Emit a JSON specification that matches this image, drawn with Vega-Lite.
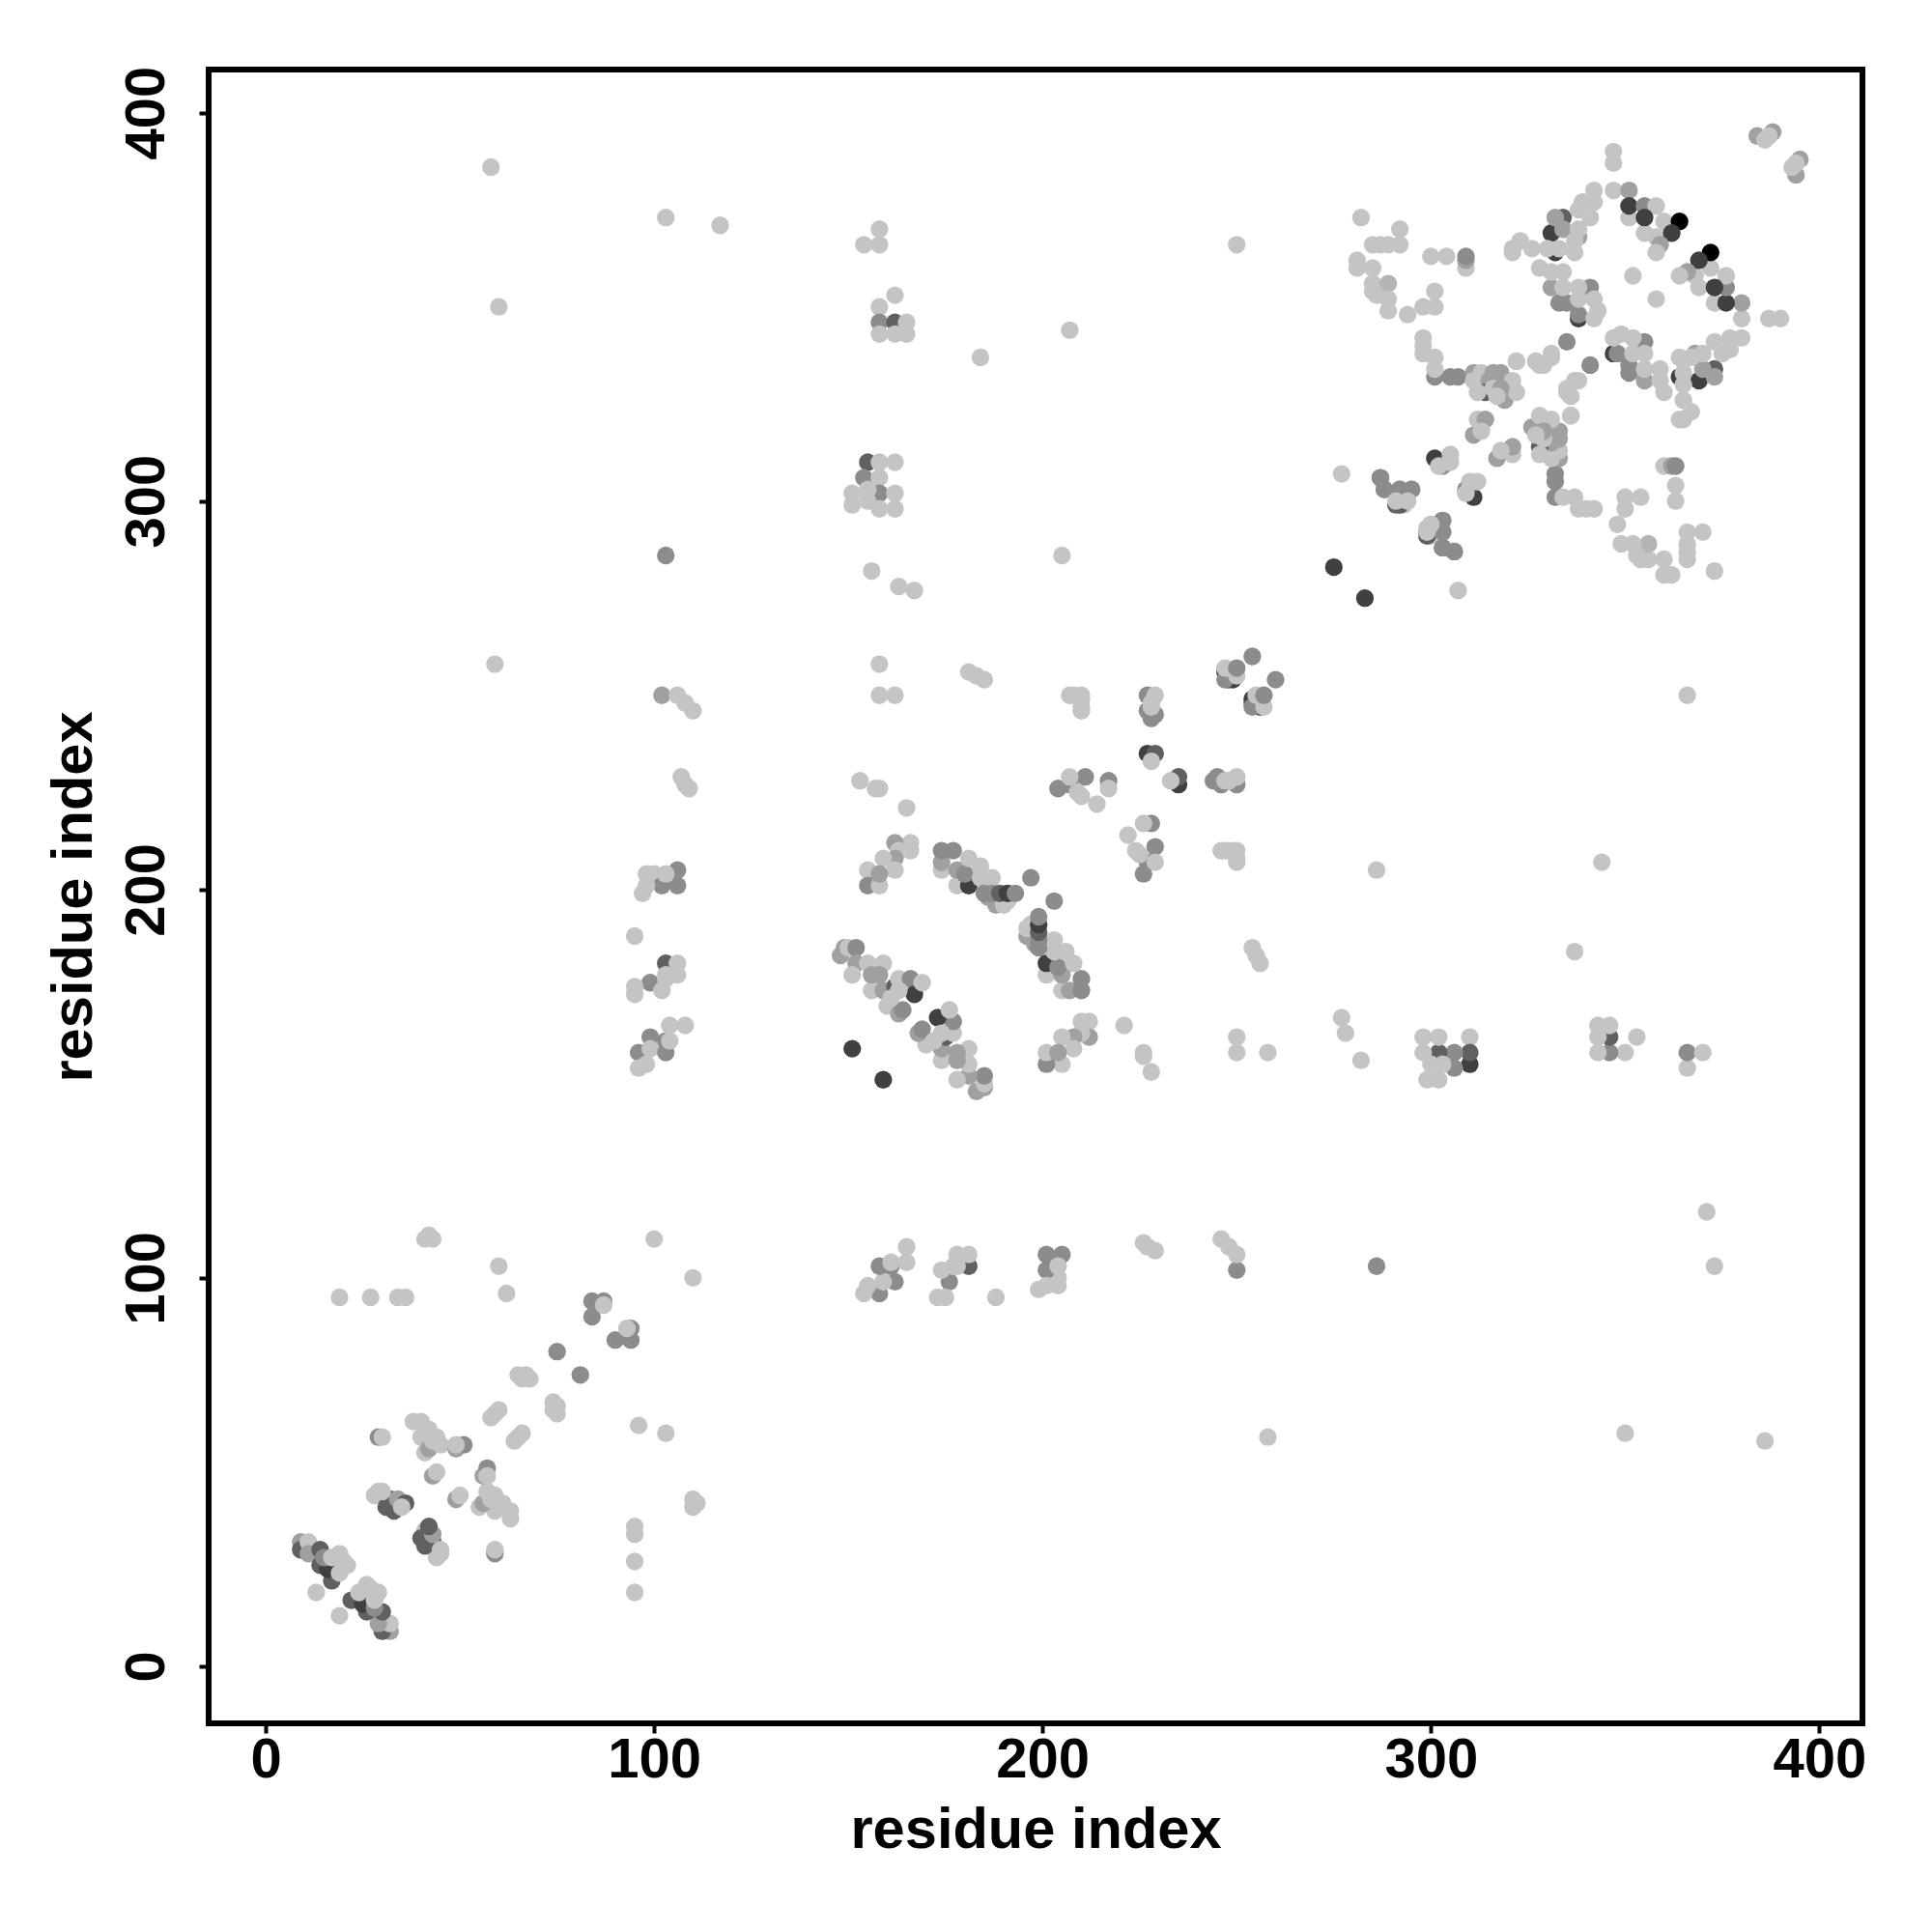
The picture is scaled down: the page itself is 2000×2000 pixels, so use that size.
{"$schema":"https://vega.github.io/schema/vega-lite/v6.json","width":1712,"height":1712,"autosize":"none","padding":{"left":216,"top":72,"right":72,"bottom":216},"background":"white","config":{"view":{"stroke":"#000000","strokeWidth":6}},
"data":{"values":[
{"i":9,"j":32,"s":160},{"i":9,"j":30,"s":96},{"i":11,"j":32,"s":196},{"i":11,"j":29,"s":160},{"i":14,"j":30,"s":96},{"i":14,"j":26,"s":96},{"i":17,"j":22,"s":96},{"i":16,"j":25,"s":64},{"i":15,"j":28,"s":140},{"i":19,"j":29,"s":196},{"i":17,"j":28,"s":196},{"i":21,"j":26,"s":196},{"i":19,"j":24,"s":196},{"i":20,"j":27,"s":196},{"i":13,"j":19,"s":196},
{"i":28,"j":44,"s":196},{"i":29,"j":45,"s":196},{"i":31,"j":41,"s":96},{"i":32,"j":43,"s":96},{"i":33,"j":40,"s":96},{"i":34,"j":43,"s":160},{"i":41,"j":35,"s":196},{"i":36,"j":42,"s":96},{"i":30,"j":45,"s":196},{"i":29,"j":59,"s":140},{"i":30,"j":59,"s":196},
{"i":38,"j":63,"s":196},{"i":40,"j":63,"s":196},{"i":42,"j":61,"s":196},{"i":44,"j":59,"s":196},{"i":41,"j":55,"s":196},{"i":40,"j":59,"s":196},{"i":42,"j":56,"s":160},{"i":43,"j":58,"s":196},{"i":45,"j":57,"s":196},{"i":49,"j":56,"s":160},{"i":51,"j":57,"s":140},{"i":49,"j":57,"s":196},{"i":43,"j":49,"s":160},{"i":44,"j":50,"s":196},
{"i":58,"j":64,"s":196},{"i":59,"j":65,"s":196},{"i":60,"j":66,"s":196},{"i":65,"j":75,"s":196},{"i":66,"j":74,"s":196},{"i":67,"j":75,"s":196},{"i":68,"j":74,"s":196},{"i":75,"j":81,"s":140},{"i":84,"j":90,"s":140},{"i":84,"j":94,"s":140},{"i":87,"j":94,"s":140},{"i":87,"j":93,"s":196},
{"i":19,"j":95,"s":196},{"i":27,"j":95,"s":196},{"i":34,"j":95,"s":196},{"i":36,"j":95,"s":196},{"i":62,"j":96,"s":196},{"i":60,"j":103,"s":196},{"i":100,"j":110,"s":196},{"i":41,"j":110,"s":196},{"i":42,"j":111,"s":196},{"i":43,"j":110,"s":196},
{"i":95,"j":188,"s":196},{"i":58,"j":386,"s":196},{"i":60,"j":350,"s":196},{"i":59,"j":258,"s":196},{"i":103,"j":373,"s":196},{"i":117,"j":371,"s":196},{"i":103,"j":286,"s":140},{"i":102,"j":250,"s":160},{"i":106,"j":250,"s":196},{"i":108,"j":248,"s":196},{"i":110,"j":246,"s":196},{"i":107,"j":229,"s":196},{"i":108,"j":227,"s":196},{"i":109,"j":226,"s":196},
{"i":98,"j":204,"s":196},{"i":97,"j":199,"s":196},{"i":100,"j":204,"s":196},{"i":102,"j":201,"s":140},{"i":106,"j":201,"s":140},{"i":106,"j":205,"s":140},{"i":98,"j":201,"s":196},{"i":103,"j":204,"s":196},
{"i":99,"j":176,"s":140},{"i":103,"j":181,"s":96},{"i":106,"j":181,"s":196},{"i":106,"j":178,"s":196},{"i":103,"j":177,"s":196},{"i":102,"j":174,"s":196},{"i":95,"j":173,"s":196},{"i":95,"j":175,"s":196},{"i":103,"j":178,"s":196},
{"i":96,"j":158,"s":140},{"i":96,"j":154,"s":196},{"i":98,"j":155,"s":196},{"i":99,"j":162,"s":140},{"i":99,"j":159,"s":196},{"i":103,"j":158,"s":140},{"i":103,"j":161,"s":140},{"i":104,"j":161,"s":196},{"i":104,"j":165,"s":196},{"i":108,"j":165,"s":196},
{"i":154,"j":366,"s":196},{"i":158,"j":366,"s":196},{"i":158,"j":370,"s":196},{"i":158,"j":350,"s":196},{"i":158,"j":346,"s":140},{"i":162,"j":346,"s":96},{"i":162,"j":353,"s":196},{"i":158,"j":343,"s":196},{"i":162,"j":343,"s":196},{"i":165,"j":343,"s":196},{"i":165,"j":346,"s":196},
{"i":155,"j":310,"s":96},{"i":162,"j":310,"s":196},{"i":158,"j":310,"s":196},{"i":154,"j":306,"s":140},{"i":158,"j":306,"s":196},{"i":151,"j":302,"s":196},{"i":151,"j":299,"s":196},{"i":158,"j":302,"s":140},{"i":155,"j":300,"s":196},{"i":162,"j":302,"s":196},{"i":162,"j":298,"s":196},{"i":158,"j":298,"s":196},{"i":155,"j":303,"s":196},
{"i":156,"j":282,"s":196},{"i":163,"j":278,"s":196},{"i":167,"j":277,"s":196},{"i":158,"j":258,"s":196},{"i":158,"j":250,"s":196},{"i":162,"j":250,"s":196},{"i":153,"j":228,"s":196},{"i":157,"j":226,"s":196},{"i":158,"j":226,"s":196},{"i":165,"j":221,"s":196},
{"i":166,"j":212,"s":196},{"i":166,"j":210,"s":196},{"i":162,"j":212,"s":160},{"i":163,"j":210,"s":196},{"i":162,"j":208,"s":160},{"i":162,"j":205,"s":196},{"i":159,"j":208,"s":196},{"i":155,"j":205,"s":196},{"i":155,"j":201,"s":140},{"i":158,"j":201,"s":196},{"i":158,"j":204,"s":160},
{"i":174,"j":205,"s":196},{"i":174,"j":207,"s":160},{"i":174,"j":210,"s":140},{"i":177,"j":210,"s":140},{"i":178,"j":201,"s":196},{"i":178,"j":205,"s":160},{"i":181,"j":201,"s":64},{"i":180,"j":204,"s":140},{"i":181,"j":208,"s":196},{"i":184,"j":206,"s":196},{"i":184,"j":203,"s":196},{"i":187,"j":203,"s":196},{"i":186,"j":198,"s":160},{"i":188,"j":196,"s":160},{"i":190,"j":196,"s":196},{"i":191,"j":197,"s":196},{"i":185,"j":199,"s":140},{"i":187,"j":199,"s":140},{"i":189,"j":199,"s":96},{"i":191,"j":199,"s":64},{"i":193,"j":199,"s":140},{"i":197,"j":203,"s":140},
{"i":149,"j":185,"s":160},{"i":148,"j":183,"s":160},{"i":150,"j":185,"s":196},{"i":152,"j":185,"s":140},{"i":152,"j":181,"s":160},{"i":151,"j":178,"s":196},{"i":155,"j":181,"s":196},{"i":159,"j":181,"s":196},{"i":156,"j":174,"s":196},{"i":156,"j":178,"s":160},{"i":159,"j":174,"s":160},{"i":158,"j":178,"s":160},{"i":160,"j":170,"s":196},{"i":163,"j":168,"s":160},{"i":164,"j":169,"s":140},{"i":162,"j":175,"s":96},{"i":163,"j":177,"s":196},{"i":166,"j":177,"s":140},{"i":167,"j":173,"s":64},{"i":169,"j":176,"s":196},{"i":163,"j":174,"s":196},{"i":161,"j":172,"s":196},{"i":151,"j":159,"s":64},
{"i":207,"j":250,"s":196},{"i":210,"j":249,"s":196},{"i":210,"j":246,"s":196},{"i":204,"j":226,"s":140},{"i":211,"j":229,"s":140},{"i":207,"j":227,"s":140},{"i":207,"j":229,"s":196},{"i":209,"j":225,"s":196},{"i":210,"j":224,"s":196},{"i":214,"j":222,"s":196},{"i":217,"j":228,"s":140},{"i":217,"j":226,"s":196},{"i":205,"j":286,"s":196},{"i":207,"j":344,"s":196},{"i":184,"j":337,"s":196},{"i":181,"j":256,"s":196},{"i":183,"j":255,"s":196},{"i":185,"j":254,"s":196},
{"i":227,"j":250,"s":140},{"i":227,"j":246,"s":140},{"i":229,"j":245,"s":140},{"i":228,"j":248,"s":196},{"i":229,"j":250,"s":196},{"i":227,"j":235,"s":64},{"i":229,"j":235,"s":96},{"i":228,"j":233,"s":196},{"i":228,"j":244,"s":140},{"i":228,"j":247,"s":196},{"i":210,"j":247,"s":196},{"i":210,"j":250,"s":196},{"i":208,"j":250,"s":196},
{"i":247,"j":256,"s":64},{"i":248,"j":254,"s":96},{"i":249,"j":254,"s":64},{"i":249,"j":256,"s":96},{"i":247,"j":254,"s":140},{"i":250,"j":255,"s":196},{"i":247,"j":257,"s":196},{"i":250,"j":257,"s":140},{"i":254,"j":260,"s":140},{"i":250,"j":366,"s":196},{"i":275,"j":283,"s":64},{"i":277,"j":307,"s":196},
{"i":282,"j":373,"s":196},{"i":292,"j":370,"s":196},{"i":285,"j":366,"s":196},{"i":287,"j":366,"s":196},{"i":289,"j":366,"s":196},{"i":292,"j":366,"s":196},{"i":300,"j":363,"s":196},{"i":304,"j":363,"s":196},{"i":309,"j":360,"s":196},{"i":309,"j":362,"s":160},{"i":309,"j":363,"s":140},{"i":281,"j":362,"s":196},{"i":281,"j":360,"s":196},{"i":285,"j":360,"s":196},{"i":285,"j":356,"s":196},{"i":289,"j":356,"s":180},{"i":285,"j":354,"s":196},{"i":286,"j":353,"s":196},{"i":289,"j":352,"s":196},{"i":289,"j":349,"s":196},{"i":294,"j":348,"s":196},{"i":298,"j":350,"s":196},{"i":301,"j":350,"s":196},{"i":301,"j":354,"s":196},{"i":298,"j":342,"s":196},{"i":298,"j":340,"s":196},{"i":298,"j":338,"s":196},{"i":301,"j":332,"s":140},{"i":305,"j":332,"s":140},{"i":307,"j":332,"s":140},{"i":301,"j":337,"s":196},{"i":301,"j":334,"s":196},
{"i":311,"j":333,"s":160},{"i":311,"j":331,"s":196},{"i":313,"j":333,"s":196},{"i":316,"j":333,"s":160},{"i":318,"j":333,"s":160},{"i":315,"j":331,"s":160},{"i":314,"j":328,"s":96},{"i":319,"j":327,"s":96},{"i":319,"j":326,"s":160},{"i":312,"j":328,"s":196},{"i":321,"j":331,"s":196},{"i":322,"j":328,"s":196},{"i":316,"j":329,"s":196},{"i":318,"j":329,"s":160},{"i":317,"j":327,"s":196},
{"i":322,"j":336,"s":196},{"i":327,"j":336,"s":196},{"i":331,"j":337,"s":196},{"i":329,"j":335,"s":196},{"i":335,"j":341,"s":140},{"i":338,"j":331,"s":196},{"i":335,"j":328,"s":196},{"i":336,"j":327,"s":196},{"i":336,"j":322,"s":196},{"i":311,"j":317,"s":160},{"i":312,"j":321,"s":196},{"i":314,"j":321,"s":160},{"i":313,"j":318,"s":196},
{"i":301,"j":311,"s":64},{"i":303,"j":309,"s":140},{"i":305,"j":310,"s":196},{"i":305,"j":312,"s":196},{"i":302,"j":309,"s":196},{"i":291,"j":299,"s":96},{"i":287,"j":306,"s":140},{"i":288,"j":303,"s":140},{"i":292,"j":303,"s":140},{"i":295,"j":303,"s":140},{"i":292,"j":299,"s":196},{"i":294,"j":300,"s":196},{"i":293,"j":299,"s":196},
{"i":299,"j":292,"s":96},{"i":303,"j":295,"s":140},{"i":303,"j":292,"s":140},{"i":303,"j":288,"s":140},{"i":306,"j":287,"s":140},{"i":300,"j":294,"s":196},{"i":300,"j":291,"s":196},
{"i":332,"j":364,"s":64},{"i":331,"j":369,"s":64},{"i":334,"j":373,"s":96},{"i":332,"j":373,"s":160},{"i":334,"j":370,"s":160},{"i":338,"j":368,"s":160},{"i":342,"j":380,"s":196},{"i":342,"j":377,"s":196},{"i":339,"j":377,"s":196},{"i":338,"j":375,"s":196},{"i":341,"j":373,"s":196},{"i":338,"j":370,"s":196},{"i":337,"j":367,"s":196},{"i":337,"j":364,"s":196},{"i":333,"j":365,"s":196},
{"i":338,"j":347,"s":64},{"i":338,"j":348,"s":140},{"i":333,"j":351,"s":140},{"i":335,"j":351,"s":140},{"i":331,"j":355,"s":160},{"i":341,"j":355,"s":140},{"i":321,"j":365,"s":196},{"i":323,"j":367,"s":196},{"i":321,"j":364,"s":196},{"i":326,"j":365,"s":196},{"i":330,"j":365,"s":196},{"i":328,"j":360,"s":196},{"i":331,"j":359,"s":196},{"i":334,"j":359,"s":196},{"i":334,"j":355,"s":196},{"i":338,"j":355,"s":196},{"i":338,"j":352,"s":196},{"i":342,"j":352,"s":196},{"i":343,"j":349,"s":196},{"i":342,"j":347,"s":196},{"i":352,"j":358,"s":196},
{"i":347,"j":390,"s":196},{"i":347,"j":387,"s":196},{"i":347,"j":380,"s":196},{"i":351,"j":380,"s":160},{"i":351,"j":373,"s":196},{"i":351,"j":376,"s":64},{"i":355,"j":376,"s":140},{"i":358,"j":376,"s":196},{"i":355,"j":369,"s":196},{"i":355,"j":373,"s":64},{"i":360,"j":372,"s":196},{"i":364,"j":372,"s":0},{"i":358,"j":368,"s":196},{"i":362,"j":369,"s":64},{"i":359,"j":366,"s":160},{"i":358,"j":364,"s":196},{"i":384,"j":394,"s":160},{"i":386,"j":393,"s":196},{"i":388,"j":395,"s":160},{"i":387,"j":394,"s":196},

{"i":32,"j":9,"s":160},{"i":30,"j":9,"s":96},{"i":32,"j":11,"s":196},{"i":29,"j":11,"s":160},{"i":30,"j":14,"s":96},{"i":26,"j":14,"s":96},{"i":22,"j":17,"s":96},{"i":25,"j":16,"s":64},{"i":28,"j":15,"s":140},{"i":29,"j":19,"s":196},{"i":28,"j":17,"s":196},{"i":26,"j":21,"s":196},{"i":24,"j":19,"s":196},{"i":27,"j":20,"s":196},{"i":19,"j":13,"s":196},
{"i":44,"j":28,"s":196},{"i":45,"j":29,"s":196},{"i":41,"j":31,"s":96},{"i":43,"j":32,"s":96},{"i":40,"j":33,"s":96},{"i":43,"j":34,"s":160},{"i":35,"j":41,"s":196},{"i":42,"j":36,"s":96},{"i":45,"j":30,"s":196},{"i":59,"j":29,"s":140},{"i":59,"j":30,"s":196},
{"i":63,"j":38,"s":196},{"i":63,"j":40,"s":196},{"i":61,"j":42,"s":196},{"i":59,"j":44,"s":196},{"i":55,"j":41,"s":196},{"i":59,"j":40,"s":196},{"i":56,"j":42,"s":160},{"i":58,"j":43,"s":196},{"i":57,"j":45,"s":196},{"i":56,"j":49,"s":160},{"i":57,"j":51,"s":140},{"i":57,"j":49,"s":196},{"i":49,"j":43,"s":160},{"i":50,"j":44,"s":196},
{"i":64,"j":58,"s":196},{"i":65,"j":59,"s":196},{"i":66,"j":60,"s":196},{"i":75,"j":65,"s":196},{"i":74,"j":66,"s":196},{"i":75,"j":67,"s":196},{"i":74,"j":68,"s":196},{"i":81,"j":75,"s":140},{"i":90,"j":84,"s":140},{"i":94,"j":84,"s":140},{"i":94,"j":87,"s":140},{"i":93,"j":87,"s":196},
{"i":95,"j":19,"s":196},{"i":95,"j":27,"s":196},{"i":95,"j":34,"s":196},{"i":95,"j":36,"s":196},{"i":96,"j":62,"s":196},{"i":103,"j":60,"s":196},{"i":110,"j":100,"s":196},{"i":110,"j":41,"s":196},{"i":111,"j":42,"s":196},{"i":110,"j":43,"s":196},
{"i":188,"j":95,"s":196},{"i":386,"j":58,"s":196},{"i":350,"j":60,"s":196},{"i":258,"j":59,"s":196},{"i":373,"j":103,"s":196},{"i":371,"j":117,"s":196},{"i":286,"j":103,"s":140},{"i":250,"j":102,"s":140},{"i":250,"j":106,"s":196},{"i":248,"j":108,"s":196},{"i":246,"j":110,"s":196},{"i":229,"j":107,"s":196},{"i":227,"j":108,"s":196},{"i":226,"j":109,"s":196},
{"i":204,"j":98,"s":196},{"i":199,"j":97,"s":196},{"i":204,"j":100,"s":196},{"i":201,"j":102,"s":140},{"i":201,"j":106,"s":140},{"i":205,"j":106,"s":140},{"i":201,"j":98,"s":196},{"i":204,"j":103,"s":196},
{"i":176,"j":99,"s":140},{"i":181,"j":103,"s":96},{"i":181,"j":106,"s":196},{"i":178,"j":106,"s":196},{"i":177,"j":103,"s":196},{"i":174,"j":102,"s":196},{"i":173,"j":95,"s":196},{"i":175,"j":95,"s":196},{"i":178,"j":103,"s":196},
{"i":158,"j":96,"s":140},{"i":154,"j":96,"s":196},{"i":155,"j":98,"s":196},{"i":162,"j":99,"s":140},{"i":159,"j":99,"s":196},{"i":158,"j":103,"s":140},{"i":161,"j":103,"s":140},{"i":161,"j":104,"s":196},{"i":165,"j":104,"s":196},{"i":165,"j":108,"s":196},
{"i":366,"j":154,"s":196},{"i":366,"j":158,"s":140},{"i":370,"j":158,"s":196},{"i":350,"j":158,"s":196},{"i":346,"j":158,"s":140},{"i":346,"j":162,"s":96},{"i":353,"j":162,"s":196},{"i":343,"j":158,"s":196},{"i":343,"j":162,"s":196},{"i":343,"j":165,"s":196},{"i":346,"j":165,"s":196},
{"i":310,"j":155,"s":64},{"i":310,"j":162,"s":196},{"i":310,"j":158,"s":96},{"i":306,"j":154,"s":140},{"i":306,"j":158,"s":140},{"i":302,"j":151,"s":196},{"i":299,"j":151,"s":196},{"i":302,"j":158,"s":96},{"i":300,"j":155,"s":196},{"i":302,"j":162,"s":196},{"i":298,"j":162,"s":196},{"i":298,"j":158,"s":196},{"i":303,"j":155,"s":196},
{"i":282,"j":156,"s":196},{"i":278,"j":163,"s":196},{"i":277,"j":167,"s":196},{"i":258,"j":158,"s":196},{"i":250,"j":158,"s":196},{"i":250,"j":162,"s":196},{"i":228,"j":153,"s":196},{"i":226,"j":157,"s":196},{"i":226,"j":158,"s":196},{"i":221,"j":165,"s":196},
{"i":212,"j":166,"s":196},{"i":210,"j":166,"s":196},{"i":212,"j":162,"s":160},{"i":210,"j":163,"s":196},{"i":208,"j":162,"s":160},{"i":205,"j":162,"s":196},{"i":208,"j":159,"s":196},{"i":205,"j":155,"s":196},{"i":201,"j":155,"s":140},{"i":201,"j":158,"s":196},{"i":204,"j":158,"s":160},
{"i":205,"j":174,"s":196},{"i":207,"j":174,"s":160},{"i":210,"j":174,"s":140},{"i":210,"j":177,"s":140},{"i":201,"j":178,"s":196},{"i":205,"j":178,"s":160},{"i":201,"j":181,"s":64},{"i":204,"j":180,"s":140},{"i":208,"j":181,"s":196},{"i":206,"j":184,"s":196},{"i":203,"j":184,"s":196},{"i":203,"j":187,"s":196},{"i":198,"j":186,"s":160},{"i":196,"j":188,"s":160},{"i":196,"j":190,"s":196},{"i":197,"j":191,"s":196},{"i":199,"j":185,"s":140},{"i":199,"j":187,"s":140},{"i":199,"j":189,"s":96},{"i":199,"j":191,"s":64},{"i":199,"j":193,"s":140},{"i":203,"j":197,"s":140},
{"i":185,"j":149,"s":160},{"i":183,"j":148,"s":160},{"i":185,"j":150,"s":196},{"i":185,"j":152,"s":140},{"i":181,"j":152,"s":160},{"i":178,"j":151,"s":196},{"i":181,"j":155,"s":196},{"i":181,"j":159,"s":196},{"i":174,"j":156,"s":196},{"i":178,"j":156,"s":160},{"i":174,"j":159,"s":160},{"i":178,"j":158,"s":160},{"i":170,"j":160,"s":196},{"i":168,"j":163,"s":160},{"i":169,"j":164,"s":140},{"i":175,"j":162,"s":96},{"i":177,"j":163,"s":196},{"i":177,"j":166,"s":140},{"i":173,"j":167,"s":64},{"i":176,"j":169,"s":196},{"i":174,"j":163,"s":196},{"i":172,"j":161,"s":196},{"i":159,"j":151,"s":64},
{"i":250,"j":207,"s":196},{"i":249,"j":210,"s":196},{"i":246,"j":210,"s":196},{"i":226,"j":204,"s":140},{"i":229,"j":211,"s":140},{"i":227,"j":207,"s":140},{"i":229,"j":207,"s":196},{"i":225,"j":209,"s":196},{"i":224,"j":210,"s":196},{"i":222,"j":214,"s":196},{"i":228,"j":217,"s":140},{"i":226,"j":217,"s":196},{"i":286,"j":205,"s":196},{"i":344,"j":207,"s":196},{"i":337,"j":184,"s":196},{"i":256,"j":181,"s":196},{"i":255,"j":183,"s":196},{"i":254,"j":185,"s":196},
{"i":250,"j":227,"s":140},{"i":246,"j":227,"s":140},{"i":245,"j":229,"s":140},{"i":248,"j":228,"s":196},{"i":250,"j":229,"s":196},{"i":235,"j":227,"s":64},{"i":235,"j":229,"s":96},{"i":233,"j":228,"s":196},{"i":244,"j":228,"s":140},{"i":247,"j":228,"s":196},{"i":247,"j":210,"s":196},{"i":250,"j":210,"s":196},{"i":250,"j":208,"s":196},
{"i":256,"j":247,"s":64},{"i":254,"j":248,"s":96},{"i":254,"j":249,"s":64},{"i":256,"j":249,"s":96},{"i":254,"j":247,"s":140},{"i":255,"j":250,"s":196},{"i":257,"j":247,"s":196},{"i":257,"j":250,"s":140},{"i":260,"j":254,"s":140},{"i":366,"j":250,"s":196},{"i":283,"j":275,"s":64},{"i":307,"j":277,"s":196},
{"i":373,"j":282,"s":196},{"i":370,"j":292,"s":196},{"i":366,"j":285,"s":196},{"i":366,"j":287,"s":196},{"i":366,"j":289,"s":196},{"i":366,"j":292,"s":196},{"i":363,"j":300,"s":196},{"i":363,"j":304,"s":196},{"i":360,"j":309,"s":196},{"i":362,"j":309,"s":160},{"i":363,"j":309,"s":140},{"i":362,"j":281,"s":196},{"i":360,"j":281,"s":196},{"i":360,"j":285,"s":196},{"i":356,"j":285,"s":196},{"i":356,"j":289,"s":180},{"i":354,"j":285,"s":196},{"i":353,"j":286,"s":196},{"i":352,"j":289,"s":196},{"i":349,"j":289,"s":196},{"i":348,"j":294,"s":196},{"i":350,"j":298,"s":196},{"i":350,"j":301,"s":196},{"i":354,"j":301,"s":196},{"i":342,"j":298,"s":196},{"i":340,"j":298,"s":196},{"i":338,"j":298,"s":196},{"i":332,"j":301,"s":140},{"i":332,"j":305,"s":140},{"i":332,"j":307,"s":140},{"i":337,"j":301,"s":196},{"i":334,"j":301,"s":196},
{"i":333,"j":311,"s":160},{"i":331,"j":311,"s":196},{"i":333,"j":313,"s":196},{"i":333,"j":316,"s":160},{"i":333,"j":318,"s":160},{"i":331,"j":315,"s":160},{"i":328,"j":314,"s":96},{"i":327,"j":319,"s":96},{"i":326,"j":319,"s":160},{"i":328,"j":312,"s":196},{"i":331,"j":321,"s":196},{"i":328,"j":322,"s":196},{"i":329,"j":316,"s":196},{"i":329,"j":318,"s":160},{"i":327,"j":317,"s":196},
{"i":336,"j":322,"s":196},{"i":336,"j":327,"s":196},{"i":337,"j":331,"s":196},{"i":335,"j":329,"s":196},{"i":341,"j":335,"s":140},{"i":331,"j":338,"s":196},{"i":328,"j":335,"s":196},{"i":327,"j":336,"s":196},{"i":322,"j":336,"s":196},{"i":317,"j":311,"s":160},{"i":321,"j":312,"s":196},{"i":321,"j":314,"s":160},{"i":318,"j":313,"s":196},
{"i":311,"j":301,"s":64},{"i":309,"j":303,"s":140},{"i":310,"j":305,"s":196},{"i":312,"j":305,"s":196},{"i":309,"j":302,"s":196},{"i":299,"j":291,"s":96},{"i":306,"j":287,"s":140},{"i":303,"j":288,"s":140},{"i":303,"j":292,"s":140},{"i":303,"j":295,"s":140},{"i":299,"j":292,"s":196},{"i":300,"j":294,"s":196},{"i":299,"j":293,"s":196},
{"i":292,"j":299,"s":96},{"i":295,"j":303,"s":140},{"i":292,"j":303,"s":140},{"i":288,"j":303,"s":140},{"i":287,"j":306,"s":140},{"i":294,"j":300,"s":196},{"i":291,"j":300,"s":196},
{"i":364,"j":332,"s":64},{"i":369,"j":331,"s":64},{"i":373,"j":334,"s":96},{"i":373,"j":332,"s":160},{"i":370,"j":334,"s":160},{"i":368,"j":338,"s":160},{"i":380,"j":342,"s":196},{"i":377,"j":342,"s":196},{"i":377,"j":339,"s":196},{"i":375,"j":338,"s":196},{"i":373,"j":341,"s":196},{"i":370,"j":338,"s":196},{"i":367,"j":337,"s":196},{"i":364,"j":337,"s":196},{"i":365,"j":333,"s":196},
{"i":347,"j":338,"s":64},{"i":348,"j":338,"s":140},{"i":351,"j":333,"s":140},{"i":351,"j":335,"s":140},{"i":355,"j":331,"s":160},{"i":355,"j":341,"s":140},{"i":365,"j":321,"s":196},{"i":367,"j":323,"s":196},{"i":364,"j":321,"s":196},{"i":365,"j":326,"s":196},{"i":365,"j":330,"s":196},{"i":360,"j":328,"s":196},{"i":359,"j":331,"s":196},{"i":359,"j":334,"s":196},{"i":355,"j":334,"s":196},{"i":355,"j":338,"s":196},{"i":352,"j":338,"s":196},{"i":352,"j":342,"s":196},{"i":349,"j":343,"s":196},{"i":347,"j":342,"s":196},{"i":358,"j":352,"s":196},
{"i":390,"j":347,"s":196},{"i":387,"j":347,"s":196},{"i":380,"j":347,"s":196},{"i":380,"j":351,"s":160},{"i":373,"j":351,"s":196},{"i":376,"j":351,"s":64},{"i":376,"j":355,"s":140},{"i":376,"j":358,"s":196},{"i":369,"j":355,"s":196},{"i":373,"j":355,"s":64},{"i":372,"j":360,"s":196},{"i":372,"j":364,"s":0},{"i":368,"j":358,"s":196},{"i":369,"j":362,"s":64},{"i":366,"j":359,"s":160},{"i":364,"j":358,"s":196},{"i":394,"j":384,"s":160},{"i":393,"j":386,"s":196},{"i":395,"j":388,"s":160},{"i":394,"j":387,"s":196}
]},
"mark":{"type":"circle","size":335,"opacity":1},
"encoding":{
"x":{"field":"i","type":"quantitative","scale":{"domain":[-14.7,411.1],"nice":false,"zero":false},"axis":{"values":[0,100,200,300,400],"title":"residue index","grid":false,"domain":false,"tickColor":"#000000","tickWidth":4,"tickSize":10,"labelFont":"Liberation Sans","labelFontWeight":"bold","labelFontSize":58,"labelColor":"#000000","labelPadding":-1,"labelFlush":false,"labelOverlap":false,"labelBound":false,"titleFont":"Liberation Sans","titleFontWeight":"bold","titleFontSize":59.6,"titleColor":"#000000","titlePadding":14}},
"y":{"field":"j","type":"quantitative","scale":{"domain":[-14.7,411.1],"nice":false,"zero":false},"axis":{"values":[0,100,200,300,400],"title":"residue index","grid":false,"domain":false,"tickColor":"#000000","tickWidth":4,"tickSize":10,"labelFont":"Liberation Sans","labelFontWeight":"bold","labelFontSize":58,"labelColor":"#000000","labelAngle":-90,"labelAlign":"center","labelBaseline":"bottom","labelPadding":25,"labelFlush":false,"labelOverlap":false,"labelBound":false,"titleFont":"Liberation Sans","titleFontWeight":"bold","titleFontSize":59.6,"titleColor":"#000000","titlePadding":16}},
"color":{"field":"s","type":"quantitative","legend":null,"scale":{"domain":[0,200],"range":["#000000","#c8c8c8"],"interpolate":"rgb"}}
}}
